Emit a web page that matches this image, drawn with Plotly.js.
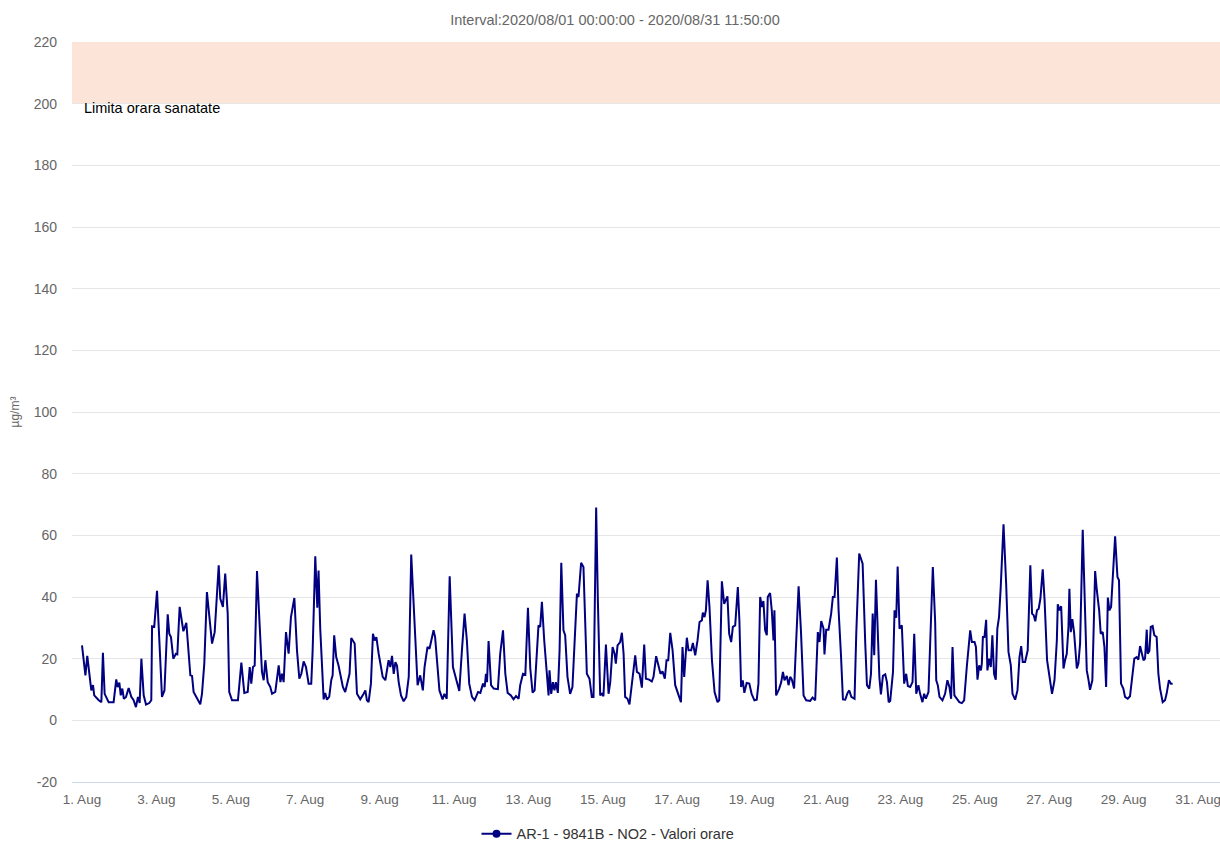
<!DOCTYPE html>
<html>
<head>
<meta charset="utf-8">
<script src="https://cdn.plot.ly/plotly-3.0.1.min.js"></script>
<style>html,body{margin:0;padding:0;background:#fff;}#chart{width:1220px;height:841px;}</style>
</head>
<body>
<div id="chart"></div>
<script>
// Hours elapsed since 2020-08-01 00:00 (vertices)
const hoursSinceStart = [
0,2.2,3.4,4.3,6.0,7.1,7.9,10.8,12.5,13.5,14.6,17.2,20.4,22.1,23,24.1,25,26,27,28.4,30.1,31.8,33.3,34.8,36.1,37.2,38.3,39.8,41.3,43.4,44.7,45.2,46.6,48.4,49.9,51.6,53.2,55.3,56.3,57.4,58.9,60.6,61.5,63,65.4,67.3,69.9,71,72,74.8,76.3,77.4,78.9,80.6,82.4,83.9,85.6,
88.2,89.2,90.9,92.4,94,95,96.8,100.6,102.8,104.7,106.9,108.2,109.2,110.3,111.4,112.9,114.6,116.1,117.2,118.3,119.8,121.5,122.6,124.7,126.9,128,129,130.1,131.6,133.3,134.8,137,138.7,140.2,141.5,143,144.5,146.2,147.9,148.8,150.5,151.8,152.6,153.7,155.9,156.9,158,159.5,160.8,161.7,162.7,164,165.5,166.6,168.3,169.8,170.9,172.6,173.7,175.9,
177.4,179.5,181.7,182.8,183.8,184.9,186.4,187.7,188.8,189.9,191.4,192.5,194,195.7,197.8,198.9,200,201.1,202.2,203.2,204.3,205.8,207.5,209.2,210.8,212.4,214.6,216.5,218.2,219.9,221,222.9,224.2,226.8,227.8,229.3,230.6,232.6,233.8,235.3,237.2,239.3,241.5,243.4,245.1,246.8,248.3,249.8,251.6,253.3,255.5,257,258.7,259.8,260.6,261.3,262.3,263.9,265.6,
268.3,269.8,271.6,273.1,274.6,276.7,278.4,280,281.7,282.7,284.5,286,287.7,289.2,290.7,292,293.5,294.5,295.6,296.7,298.2,299.9,301,301.6,302.7,303.8,304.8,305.7,307,308.1,309.2,310.6,311.7,313.2,314.9,316.4,318.1,319.3,320.3,322,323.5,325.7,327.4,328.9,330,331.7,332.8,334.3,335.4,336.4,338,339.7,340.8,342.3,343.6,344.4,345.5,347.2,348.3,349.4,350.4,351.9,353.2,
356.9,358,359.7,361.2,362.7,363.8,365.9,367.6,368.7,370.4,371.9,373.2,374.5,376,377.1,378.2,379.5,381,382.7,384.8,386.4,387.4,388.5,390.2,391.3,393,394.1,395.6,397.1,398.4,399.9,400.5,401.6,402.5,403.6,404.8,406.4,408.1,410,411.1,412.8,414.3,415.4,416.4,417.5,418.8,419.9,421.4,423.1,424.1,425.2,426.3,427.3,428.8,430.5,432,433.8,435.3,436.4,437.5,438.6,439.6,440.7,441.8,442.4,443.9,445,446.1,446.7,447.8,
449.8,451.1,452.2,453.2,454.7,455.8,456.9,457.9,459.4,460.7,462.3,463.8,465.5,467.2,469.8,471.3,473,474.7,475.8,476.9,478.4,479,480.1,481.6,483.3,484.4,485.5,487,488.1,489.6,490.9,492.4,493.9,495,496.3,498.4,499.5,501.4,502.5,503.6,505.3,506.4,507.9,509,510.1,511.1,512.2,513.3,514.4,515.4,516.7,518.2,519.3,520.4,521.4,523.2,524.2,525.3,526.2,527.4,528.9,530.4,531.7,532.8,534.3,535.8,536.9,538.2,
539.6,540.7,542.2,543.3,544.4,546.1,547.2,548.9,550.4,551.1,552.1,553.2,555.1,556.8,558.3,559.6,560.7,561.6,562.8,564.3,566,567.6,569.1,570.8,571.9,573,574.1,575.8,576.7,577.7,578.8,579.9,580.5,581.2,582.2,583.3,584.1,585.2,586.3,587.3,588.4,589.5,590.5,591.6,592.7,594.5,596.2,597.7,599.2,600.3,602,603.5,604.8,605.9,606.9,608.4,610.1,611.8,612.9,614,615,616.1,617.2,618.3,619.8,621,622.6,624.1,625.8,
627.4,628.9,629.5,630.6,631.7,633.2,634.2,635.3,636.4,637,637.9,638.9,640,641.8,642.8,643.9,645.6,647.1,648.2,649.2,650.3,651.8,652.5,653.6,654.7,656.2,657.2,658.5,659.6,660.7,661.8,662.8,663.9,665,666.5,668,669,670.3,671.8,672.9,674.6,676.1,677.6,678.9,680.4,681.5,682.6,683.7,684.8,685.8,686.9,687.5,688.6,689.5,690.7,691.8,693.3,694.4,695.5,697.2,698.7,699.7,701.2,702.5,703.6
];
// NO2 hourly values, µg/m³
const no2Values = [
24.3,14.6,20.9,17.3,9.7,11.4,8.1,6.5,5.9,21.9,8.6,5.9,5.9,13.3,10.8,12.2,8.1,10.3,7.0,7.6,10.5,7.6,6.5,4.3,7.6,5.6,20,8.1,5.1,5.6,6.5,30.5,30.3,42,24.9,7.6,9.7,34.4,28.1,27,20,21.6,21.4,36.8,28.9,31.6,14.6,14.4,9.2,6.5,5.2,8.6,18.4,41.6,31.9,24.9,28.6,
50.3,39.5,36.8,47.6,34.6,9.2,6.5,6.5,18.7,8.9,9.2,17.3,11.9,17.3,17.8,48.4,28.1,15.7,13,19.5,12.4,10.8,8.6,9.2,17.8,12.4,15.1,12.4,28.6,21.6,33.5,39.7,22.7,13.5,15.1,19.1,17.3,11.9,11.9,22.7,53.2,36.5,48.6,29.7,6.8,8.9,6.7,7.6,13,14.6,27.6,20.5,17.8,15.1,10.8,9.2,11.4,15.1,26.7,24.9,
8.6,6.8,8.6,9.7,6.5,5.9,11.9,28.1,25.9,27,21.6,18.4,14.1,13,19.5,17.3,20.9,15.1,18.9,17.8,12.4,8.1,6.2,7.6,14.1,53.8,29.2,11.4,14.6,9.7,17.3,23.8,23.2,29.2,27,16.2,9.7,6.8,8.6,7,46.7,17.3,13,9.5,22.7,34.6,25.9,11.9,7.6,6.5,9.2,8.9,11.9,10.8,15.1,12.4,25.7,11.4,10.3,
10.1,21.6,29.2,15.1,8.9,8.1,6.8,7.9,7,11.4,15.1,14.8,36.5,16.8,9,9.7,20.5,30.8,30.3,38.4,25.9,13.5,8.1,16.2,8.6,12.4,9.7,12.4,8.9,22.7,51.1,29.2,27.6,14.1,8.6,10.8,28.1,41.1,40,51.1,49.7,15.1,13.5,7.6,7.6,69,38.9,8.1,8.6,7.8,24.6,8.6,12.4,23.8,21.6,18.4,24.3,25.4,28.4,21.6,7.6,7,5.2,
21.1,15.7,15.1,10.6,24.6,13.5,13.2,12.6,14.1,20.8,17.8,15.1,15.9,13.5,19.5,19.5,28.4,22.7,11.4,8.1,5.9,23.8,14.1,26.8,22.7,22.7,25.1,21.1,25.9,31.9,32.4,34.9,33.5,35.7,45.4,36.8,19.5,9.2,5.9,6.5,45.1,37.8,38.9,40.2,28.1,25.4,30.3,30.8,43.2,32.4,10.8,13,8.9,12.1,11.9,8.6,6.5,6.7,11.9,40,36.8,38.7,29.2,27.6,40,41.3,35.7,25.9,35.7,8.1,
10.3,12.4,15.7,13,14.4,11.4,14.1,13.3,10.3,27,43.5,29.2,8.1,6.5,6.3,7.4,6.5,28.6,25.4,32.2,29.7,21.4,29.4,29.4,34.6,40,40,52.8,35.7,21.6,6.8,6.7,8.9,9.7,7.6,7,28.1,54.1,52.1,50.8,24.9,11.4,10.3,15.1,34.6,21.1,45.6,28.1,14.1,8.4,14.4,14.9,12.4,5.9,6.3,15.7,35.7,33.3,49.9,29.7,30.8,11.9,15.1,11.1,10.8,12.4,28.1,8.6,
11.4,8.6,5.9,8.6,7,9.2,23.8,49.7,31.9,13,11.4,7.6,6.5,8.6,13,10.8,7,23.8,8.1,7.2,5.9,5.6,6.5,17.3,22.7,29.2,25.4,25.4,23.8,13.2,17.8,16.2,18.4,27,27,32.6,16.2,20,17.3,27.6,15.1,13.2,29.7,33.5,43.2,63.6,44.3,22.2,17.8,8.6,6.7,9.7,20.5,24.1,18.9,18.9,22.7,50.3,34.6,34.1,32.1,35.7,36.2,39.5,49,38.9,19.5,14.1,8.6,
13,25.9,37.6,35.7,37,16.8,19.5,21.6,30.3,42.7,28.6,32.8,28.6,16.8,18.4,24.9,61.8,35.1,16.2,13.5,9.9,13,29.7,48.4,42.2,35.7,28.1,28.6,23.8,10.8,39.8,35.7,36.8,46.5,59.7,46.5,45.4,11.9,10.3,7.6,7,7.8,14.1,20,20.5,19.7,24.1,22.2,19.5,20,29.4,21.6,22.5,30.3,30.6,27.6,27,15.1,10.3,5.9,6.5,8.6,13,11.9,11.9
];
const yTickValues = [-20, 0, 20, 40, 60, 80, 100, 120, 140, 160, 180, 200, 220];
const yTickLabels = ["-20", "0", "20", "40", "60", "80", "100", "120", "140", "160", "180", "200", "220"];
const seriesName = "AR-1 - 9841B - NO2 - Valori orare";
const chartTitle = "Interval:2020/08/01 00:00:00 - 2020/08/31 11:50:00";
const bandLabel = "Limita orara sanatate";
const bandFrom = 200, bandTo = 220;

const base = Date.UTC(2020, 7, 1);
const toStr = ms => new Date(ms).toISOString().slice(0, 19).replace('T', ' ');
const xs = hoursSinceStart.map(h => toStr(base + h * 3600000));

const navy = '#000080';
const traces = [
  {x: xs, y: no2Values, type: 'scatter', mode: 'lines', line: {color: navy, width: 2}, showlegend: false, hoverinfo: 'x+y'},
  {x: [null], y: [null], type: 'scatter', mode: 'lines+markers', name: seriesName,
   line: {color: navy, width: 2}, marker: {color: navy, size: 8, symbol: 'circle'}, showlegend: true}
];

const layout = {
  width: 1220, height: 841,
  margin: {l: 72, r: 0, t: 42, b: 59, autoexpand: false},
  paper_bgcolor: '#fff', plot_bgcolor: '#fff',
  font: {family: 'Liberation Sans, Arial, sans-serif', size: 14, color: '#666'},
  title: {text: chartTitle, x: 615 / 1220, xref: 'container', xanchor: 'center', y: 1 - 20 / 841, yref: 'container', yanchor: 'middle', font: {size: 14.5, color: '#666'}},
  xaxis: {
    type: 'date', automargin: false,
    range: [toStr(base - 6.45 * 3600000), toStr(base + 30.59 * 86400000)],
    tick0: '2020-08-01', dtick: 2 * 86400000, tickformat: '%-d. %b',
    showgrid: false, zeroline: false, showline: true, linecolor: '#ccd6eb', linewidth: 1,
    ticks: '', tickfont: {size: 13.5, color: '#666'}, ticklabelstandoff: 5, ticklabeloverflow: 'allow', fixedrange: true
  },
  yaxis: {
    range: [-20, 220], tickmode: 'array', tickvals: yTickValues, ticktext: yTickLabels, automargin: false,
    gridcolor: '#e6e6e6', gridwidth: 1, zeroline: true, zerolinecolor: '#e6e6e6', zerolinewidth: 1,
    showline: false, ticks: '', tickfont: {size: 14, color: '#666'}, ticklabelstandoff: 14,
    title: {text: 'µg/m³', font: {size: 12, color: '#666'}, standoff: 11}
  },
  shapes: [{type: 'rect', xref: 'paper', x0: 0, x1: 1, yref: 'y', y0: bandFrom, y1: bandTo, fillcolor: '#fde4d9', line: {width: 0}, layer: 'below'}],
  annotations: [{x: '2020-08-01', xref: 'x', y: 198.5, yref: 'y', xanchor: 'left', yanchor: 'middle', text: bandLabel, showarrow: false, font: {size: 14.5, color: '#000'}}],
  legend: {orientation: 'h', x: (608 - 72) / 1148, xanchor: 'center', y: -0.07, yanchor: 'middle', font: {size: 14.5, color: '#333'}, itemwidth: 30}
};

Plotly.newPlot('chart', traces, layout, {displayModeBar: false, staticPlot: true});
</script>
</body>
</html>
